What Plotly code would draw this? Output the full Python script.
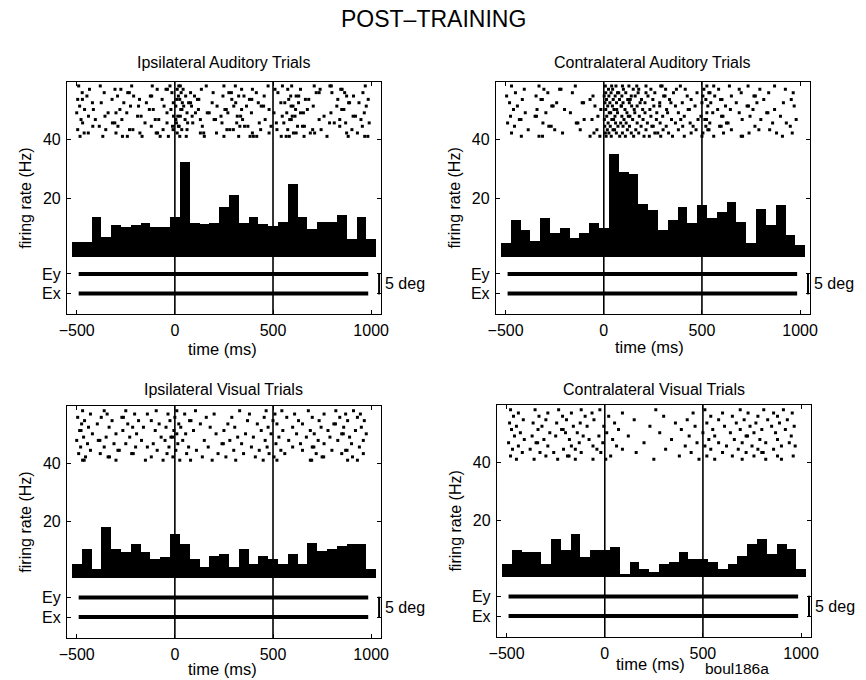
import plotly.graph_objects as go

# ---------------------------------------------------------------- data
BIN_CENTERS = list(range(-500, 1001, 50))          # 50 ms bins, centres in ms
EVENTS = [0, 500]                                  # stimulus onset / offset (ms)
EYE_SPAN = [-490, 985]                             # extent of eye-position traces (ms)

TITLES = ["Ipsilateral Auditory Trials", "Contralateral Auditory Trials",
          "Ipsilateral Visual Trials", "Contralateral Visual Trials"]

RATE_IPSI_AUD = [4.9, 4.9, 13.5, 6.7, 10.9, 10.1, 10.9, 11.7, 10.1, 10.1, 13.5,
                 32.5, 11.7, 11.1, 11.7, 17.0, 21.2, 11.7, 13.7, 11.1, 10.4,
                 11.9, 24.9, 13.7, 9.4, 11.9, 11.9, 14.4, 6.0, 13.7, 6.0]
RATE_CONTRA_AUD = [4.6, 12.5, 9.1, 5.5, 13.2, 8.2, 9.8, 6.4, 8.2, 11.6, 9.8,
                   35.0, 29.0, 28.2, 17.9, 16.1, 9.2, 12.5, 16.9, 11.6, 17.8,
                   13.3, 15.2, 18.7, 11.8, 4.8, 16.2, 10.9, 17.7, 7.6, 4.1]
RATE_IPSI_VIS = [4.9, 10.2, 3.2, 17.9, 10.2, 9.2, 11.9, 9.2, 6.8, 7.5, 15.4,
                 11.9, 6.8, 4.1, 7.7, 8.4, 4.1, 10.3, 5.1, 7.7, 6.7, 5.1, 8.4,
                 5.1, 12.2, 9.6, 10.4, 11.3, 12.0, 12.0, 3.4]
RATE_CONTRA_VIS = [4.7, 9.5, 8.7, 8.7, 4.5, 13.3, 9.5, 15.0, 7.2, 9.7, 9.7,
                   10.7, 1.0, 5.3, 2.8, 2.0, 4.8, 5.3, 9.0, 6.3, 6.3, 5.5, 2.8,
                   4.8, 7.4, 11.6, 13.3, 8.3, 11.6, 10.0, 3.0]

# spike times (ms) per trial, first trial drawn lowest
RASTER_IPSI_AUD = [
    "-483 -367 -267 -242 -167 -75 -33 25 58 150 250 325 383 400 417 542 567 583 658 775 883 967 983",
    "-462 -441 -300 -178 -95 -88 12 130 147 212 395 480 604 618 690 712 875 930",
    "-495 -352 -231 -214 -60 -9 35 62 265 280 298 437 520 575 702 745 902",
    "-418 -385 -290 -120 -12 18 22 140 331 355 372 490 625 650 660 840 955",
    "-470 -318 -306 -152 -40 8 65 91 240 315 430 517 555 788 812 870 990",
    "-478 -405 -270 -100 -82 5 52 130 200 207 345 460 585 593 735 840 948",
    "-440 -356 -190 -172 -7 15 28 88 235 318 335 547 598 612 760 908 920",
    "-500 -340 -300 -245 -40 62 105 165 175 270 390 505 570 640 655 795 965",
    "-460 -415 -280 -130 -110 -20 30 36 120 255 262 340 480 615 675 850 861",
    "-485 -226 -185 -55 5 45 85 215 300 365 440 452 592 602 705 825 975",
    "-420 -375 -260 -145 -8 38 70 80 190 310 425 540 560 630 885 890 938",
    "-495 -471 -320 -180 -65 10 25 115 122 290 380 392 580 665 682 830 985",
    "-448 -292 -210 -125 -118 18 55 100 245 325 352 455 590 618 631 875 910",
    "-472 -360 -240 -232 -15 32 80 195 275 288 415 525 720 735 800 865 958",
    "-435 -305 -275 -90 -45 -38 12 42 135 340 395 510 575 640 740 845 852",
    "-490 -380 -220 -115 -25 20 28 160 250 308 475 548 595 710 790 797 970",
]
RASTER_CONTRA_AUD = [
    "-420 -330 -312 -70 -20 12 38 81 110 152 205 232 290 350 410 500 560 700 707 910",
    "-470 -210 -50 8 26 64 95 140 178 260 275 330 445 505 610 740 880 960",
    "-385 -250 -120 -35 18 47 55 120 163 215 302 380 470 530 536 650 790 845",
    "-455 -280 -268 5 33 72 98 131 190 245 252 318 402 455 520 590 598 770 950",
    "-490 -310 -140 -132 22 60 86 114 170 222 287 365 440 540 625 633 860 930",
    "-430 -422 -100 -60 3 41 50 103 147 200 268 345 392 480 515 523 705 800 980",
    "-475 -350 -343 -30 15 57 92 125 133 181 240 300 410 495 600 607 745 900",
    "-400 -295 -170 28 35 70 118 158 210 270 325 380 525 555 690 830 836",
    "-460 -340 -200 -15 10 52 66 108 155 198 235 320 430 436 580 645 760 870",
    "-440 -265 -258 -45 20 44 88 90 142 170 255 285 365 465 530 620 730 737 970",
    "-480 -240 -110 -103 6 31 65 98 130 185 210 285 342 400 500 545 675 780 915",
    "-415 -320 -313 -70 14 48 80 122 135 192 250 335 445 520 595 602 815 955",
    "-495 -345 -55 2 26 58 92 140 160 225 305 312 425 505 565 650 765 772",
    "-450 -285 -160 10 37 70 76 112 175 215 260 355 475 535 541 700 840 965",
    "-405 -305 -225 -218 24 45 100 150 178 240 315 370 415 510 585 690 795 925",
    "-470 -330 -145 8 40 62 95 128 168 215 290 297 390 525 560 640 735 870",
]
RASTER_IPSI_VIS = [
    "-470 -462 -300 -150 -60 25 80 190 310 450 520 690 697 880 930",
    "-455 -340 -333 -120 -10 140 260 410 505 750 758 905",
    "-490 -380 -220 -212 -40 60 220 350 480 560 720 850 960",
    "-430 -290 -283 -90 5 110 300 430 540 650 800 870 877",
    "-480 -360 -200 -140 -30 70 170 390 470 600 700 708 940",
    "-445 -310 -250 -110 15 240 247 340 515 640 760 900",
    "-500 -390 -382 -170 -50 40 150 280 460 580 730 830 960",
    "-465 -350 -230 -70 -20 -12 320 400 530 670 790 890",
    "-420 -300 -195 10 55 210 360 490 620 710 850 858 975",
    "-485 -478 -265 -100 -5 95 250 440 550 690 780 920",
    "-440 -335 -215 -160 -45 30 180 305 475 600 745 860 950",
    "-475 -395 -240 -80 20 130 270 420 520 650 810 818",
    "-460 -320 -185 -120 -25 75 82 370 500 630 735 880 965",
    "-495 -375 -270 -262 0 160 290 455 570 700 840 930",
    "-430 -345 -205 -140 -35 50 200 380 510 610 760 870 945",
    "-470 -360 -250 -95 10 105 330 465 545 680 820 910",
]
RASTER_CONTRA_VIS = [
    "-450 -360 -240 -150 -60 5 250 480 560 700 820 900",
    "-480 -300 -190 -182 30 380 520 650 760 880 960",
    "-420 -330 -260 -120 -20 160 440 600 720 800 807",
    "-470 -380 -210 -150 -40 90 310 540 680 780 860",
    "-440 -290 -170 -60 60 410 510 620 750 900 970",
    "-490 -350 -342 -130 -10 200 470 580 700 820 940",
    "-410 -310 -180 -80 40 340 530 660 790 880",
    "-460 -370 -250 -110 -30 120 430 560 720 727 950",
    "-430 -280 -200 -140 10 280 500 640 760 870",
    "-475 -340 -220 -212 70 390 550 690 800 920",
    "-450 -320 -160 -90 -5 230 460 610 740 850 965",
    "-485 -365 -245 -125 50 360 520 670 770 890",
    "-415 -300 -195 -55 150 420 580 710 830 930",
    "-465 -335 -215 -100 20 300 540 650 780 880",
    "-440 -290 -170 -65 90 450 600 730 860 955",
    "-480 -355 -235 -120 -25 260 510 690 810 910",
]

# eye-trace offsets on the firing-rate axis (top row, bottom row)
EYE_Y_TOP = -5.9
EYE_X_TOP = -12.6
EYE_Y_BOT = -6.7
EYE_X_BOT = -13.5

# ---------------------------------------------------------------- layout
W, H = 866, 680
FONT = "Liberation Sans, Arial, Helvetica, sans-serif"


def px_x(p):
    return p / W


def px_y(p):
    return 1 - p / H


# panel boxes in pixels: left, right, top, bottom
BOXES = [(60, 380, 82, 314), (497, 817, 82, 314),
         (60, 380, 406, 638), (498, 818, 405, 637)]
YRANGES = [(-19.6, 59.8), (-19.6, 59.8), (-20.8, 60.1), (-20.8, 60.1)]
EYES = [(EYE_Y_TOP, EYE_X_TOP), (EYE_Y_TOP, EYE_X_TOP),
        (EYE_Y_BOT, EYE_X_BOT), (EYE_Y_BOT, EYE_X_BOT)]
RATES = [RATE_IPSI_AUD, RATE_CONTRA_AUD, RATE_IPSI_VIS, RATE_CONTRA_VIS]
RASTERS = [RASTER_IPSI_AUD, RASTER_CONTRA_AUD, RASTER_IPSI_VIS, RASTER_CONTRA_VIS]
TITLE_Y = [62, 62, 389, 389]            # subplot title centres (px)
XLABEL_Y = [349, 347, 669, 664]         # "time (ms)" centres (px)
XLABEL_DX = [-1, -3, -1, -3]

RASTER_BASE = 41.2     # firing-rate axis level of the first trial
RASTER_STEP = 1.15     # spacing between trial rows

fig = go.Figure()
annotations = []
shapes = []
layout_axes = {}

for i in range(4):
    n = "" if i == 0 else str(i + 1)
    xa, ya = "x" + n, "y" + n
    l, r, t, b = BOXES[i]
    ey, ex = EYES[i]

    # histogram
    fig.add_trace(go.Bar(x=BIN_CENTERS, y=RATES[i], width=50, marker_color="black",
                         marker_line_width=0, xaxis=xa, yaxis=ya, showlegend=False))

    # spike raster
    xs, ys = [], []
    for k, row in enumerate(RASTERS[i]):
        for v in row.split():
            xs.append(int(v))
            ys.append(RASTER_BASE + k * RASTER_STEP)
    fig.add_trace(go.Scatter(x=xs, y=ys, mode="markers",
                             marker=dict(symbol="square", size=3, color="black",
                                         line_width=0),
                             xaxis=xa, yaxis=ya, showlegend=False))

    # eye position traces
    for lvl in (ey, ex):
        fig.add_trace(go.Scatter(x=EYE_SPAN, y=[lvl, lvl], mode="lines",
                                 line=dict(color="black", width=4),
                                 xaxis=xa, yaxis=ya, showlegend=False))

    # event markers
    for ev in EVENTS:
        shapes.append(dict(type="line", xref=xa, yref=ya + " domain", x0=ev, x1=ev,
                           y0=0, y1=1, line=dict(color="black", width=1.6)))

    # 5 deg scale bar
    shapes.append(dict(type="line", xref=xa + " domain", yref=ya, x0=0.994, x1=0.994,
                       y0=ey + 0.3, y1=ex - 0.3, line=dict(color="black", width=2)))
    annotations.append(dict(text="5 deg", xref="paper", yref=ya, x=px_x(r + 2),
                            y=(ey + ex) / 2, xanchor="left", yanchor="middle",
                            showarrow=False, font=dict(size=16)))

    axis_common = dict(showline=True, linecolor="black", linewidth=1, mirror="ticks",
                       ticks="inside", ticklen=4, tickcolor="black", showgrid=False,
                       zeroline=False, tickfont=dict(size=16, color="black"))
    layout_axes["xaxis" + n] = dict(domain=[px_x(l), px_x(r)], range=[-550, 1050],
                                    anchor=ya, tickvals=[-500, 0, 500, 1000],
                                    ticktext=["\u2212500", "0", "500", "1000"],
                                    ticklabelstandoff=2, **axis_common)
    layout_axes["yaxis" + n] = dict(domain=[px_y(b), px_y(t)], range=list(YRANGES[i]),
                                    anchor=xa, tickvals=[ex, ey, 20, 40],
                                    ticktext=["Ex", "Ey", "20", "40"],
                                    ticklabelstandoff=2, **axis_common)

    # subplot title and axis titles
    cx = (l + r) / 2
    annotations.append(dict(text=TITLES[i], xref="paper", yref="paper", x=px_x(cx),
                            y=px_y(TITLE_Y[i]), xanchor="center", yanchor="middle",
                            showarrow=False, font=dict(size=16)))
    annotations.append(dict(text="time (ms)", xref="paper", yref="paper",
                            x=px_x(cx + XLABEL_DX[i]), y=px_y(XLABEL_Y[i]),
                            xanchor="center", yanchor="middle",
                            showarrow=False, font=dict(size=16.5)))
    annotations.append(dict(text="firing rate (Hz)", xref="paper", yref="paper",
                            x=px_x(l - 43), y=px_y((t + b) / 2), textangle=-90,
                            xanchor="center", yanchor="middle", showarrow=False,
                            font=dict(size=16)))

annotations.append(dict(text="POST\u2013TRAINING", xref="paper", yref="paper",
                        x=0.5, y=px_y(19), xanchor="center", yanchor="middle",
                        showarrow=False, font=dict(size=23)))
annotations.append(dict(text="boul186a", xref="paper", yref="paper", x=px_x(708),
                        y=px_y(668), xanchor="left", yanchor="middle",
                        showarrow=False, font=dict(size=15.5)))

fig.update_layout(width=W, height=H, margin=dict(l=0, r=0, t=0, b=0),
                  paper_bgcolor="white", plot_bgcolor="white", bargap=0,
                  font=dict(family=FONT, color="black"),
                  annotations=annotations, shapes=shapes, **layout_axes)

fig.write_html("out.html")
